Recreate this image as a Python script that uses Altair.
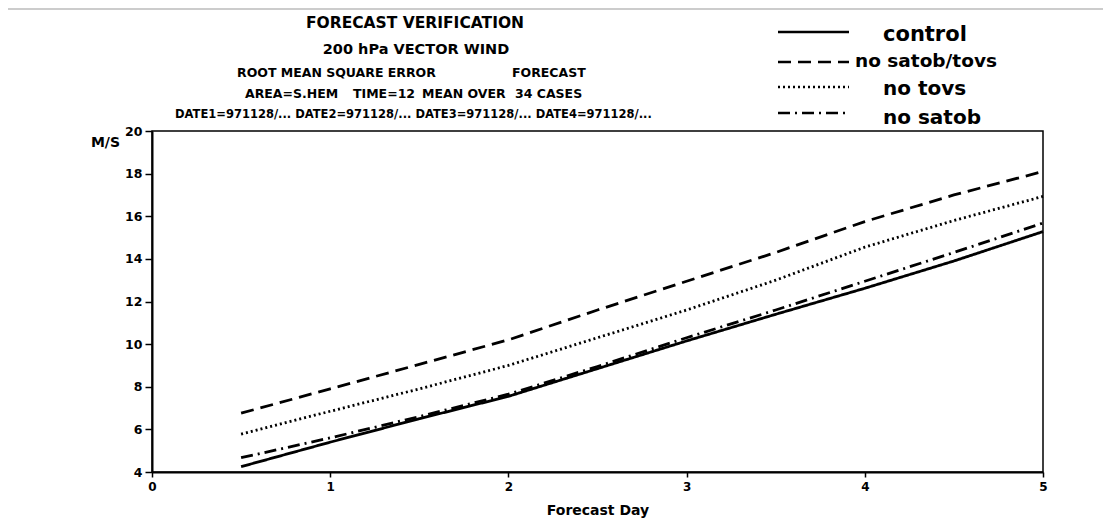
import altair as alt
import pandas as pd

# ---- data ----
days = [0.5, 1, 1.5, 2, 2.5, 3, 3.5, 4, 4.5, 5]
series = ["control", "no satob/tovs", "no tovs", "no satob"]
control = [4.25, 5.4, 6.5, 7.55, 8.85, 10.15, 11.4, 12.62, 13.9, 15.28]
no_satob_tovs = [6.76, 7.9, 9.05, 10.2, 11.6, 12.95, 14.3, 15.75, 17.0, 18.1]
no_tovs = [5.78, 6.85, 7.9, 9.0, 10.3, 11.6, 13.0, 14.55, 15.8, 16.93]
no_satob = [4.67, 5.6, 6.6, 7.65, 8.95, 10.3, 11.6, 12.95, 14.3, 15.68]
y_ticks = [4, 6, 8, 10, 12, 14, 16, 18, 20]
x_ticks = [0, 1, 2, 3, 4, 5]

values = [control, no_satob_tovs, no_tovs, no_satob]
rows = []
for name, vals in zip(series, values):
    for d, v in zip(days, vals):
        rows.append({"series": name, "day": d, "rms": v})
df = pd.DataFrame(rows)

dashes = [[1, 0], [13, 7], [2, 3], [12, 5, 2, 5]]
FONT = "DejaVu Sans"
W, H = 891, 341

lines = alt.Chart(df).mark_line(color="black", strokeWidth=2.8, strokeCap="butt").encode(
    x=alt.X("day:Q", scale=alt.Scale(domain=[0, 5], nice=False, zero=False),
            axis=alt.Axis(values=x_ticks, title="Forecast Day", tickSize=5, labelPadding=4,
                          labelFlush=False, labelOverlap=False, grid=False, labelFontSize=12,
                          titleY=38, titleBaseline="middle")),
    y=alt.Y("rms:Q", scale=alt.Scale(domain=[4, 20], nice=False, zero=False),
            axis=alt.Axis(values=y_ticks, title="M/S", tickSize=7, labelPadding=3,
                          labelFlush=False, labelOverlap=False, grid=False, labelFontSize=12.5,
                          titleAngle=0, titleX=-47, titleY=11, titleAlign="center",
                          titleBaseline="middle", titleFontSize=14)),
    strokeDash=alt.StrokeDash("series:N", scale=alt.Scale(domain=series, range=dashes), legend=None),
    detail="series:N",
)

layers = [lines]

def text(t, x, y, size, align="left", weight="bold"):
    return alt.Chart(pd.DataFrame({"t": [t]})).mark_text(
        align=align, baseline="middle", font=FONT, fontSize=size, fontWeight=weight, color="black"
    ).encode(x=alt.value(x), y=alt.value(y), text="t:N")

# title block (page coords minus plot origin 152,131)
layers += [
    text("FORECAST VERIFICATION", 263, -108, 15.5, "center"),
    text("200 hPa VECTOR WIND", 264, -81, 14.5, "center"),
    text("ROOT MEAN SQUARE ERROR", 85, -58, 12.5),
    text("FORECAST", 360, -58, 12.5),
    text("AREA=S.HEM", 93, -37, 12.5),
    text("TIME=12", 201, -37, 12.5),
    text("MEAN OVER", 270, -37, 12.5),
    text("34 CASES", 363, -37, 12.5),
    text("DATE1=971128/... DATE2=971128/... DATE3=971128/... DATE4=971128/...", 23, -16, 11.5),
]

# custom legend
leg_y = [-99, -69, -44, -18]
txt_x = [731, 703, 731, 731]
txt_y = [-96, -70, -42, -13]
txt_size = [21, 18.5, 20, 20]
for name, dsh, ly, tx, ty, ts in zip(series, dashes, leg_y, txt_x, txt_y, txt_size):
    layers.append(
        alt.Chart(pd.DataFrame({"s": [name]})).mark_rule(
            color="black", strokeWidth=2.5, strokeDash=dsh, strokeCap="butt"
        ).encode(x=alt.value(626), x2=alt.value(697), y=alt.value(ly))
    )
    layers.append(text(name, tx, ty, ts))

# faint scan border line at top of page
layers.append(
    alt.Chart(pd.DataFrame({"s": [0]})).mark_rule(color="#999999", strokeWidth=1).encode(
        x=alt.value(-144), x2=alt.value(956), y=alt.value(-122))
)

chart = alt.layer(*layers).properties(
    width=W, height=H,
    autosize=alt.AutoSizeParams(type="none"),
    padding={"left": 144, "top": 123, "right": 60, "bottom": 55},
    background="white",
).configure_view(
    stroke="black", strokeWidth=1.5
).configure_axis(
    domainColor="black", domainWidth=2, tickColor="black", tickWidth=1.5,
    labelColor="black", labelFont=FONT, labelFontWeight="bold", labelFontSize=11,
    titleColor="black", titleFont=FONT, titleFontWeight="bold", titleFontSize=14,
)

chart.save("out.html", embed_options={"renderer": "svg", "actions": False})
